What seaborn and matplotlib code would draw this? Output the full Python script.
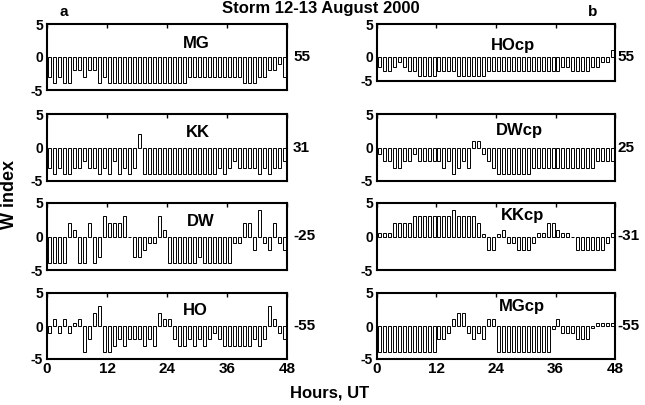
import numpy as np
import pandas as pd
import matplotlib
matplotlib.use('Agg')
import matplotlib.pyplot as plt
import seaborn as sns

sns.set_theme(style='white')
plt.rcParams['font.family'] = ['Liberation Sans', 'DejaVu Sans']
plt.rcParams['font.weight'] = 'bold'
plt.rcParams['text.color'] = 'black'
plt.rcParams['axes.labelcolor'] = 'black'
plt.rcParams['xtick.color'] = 'black'
plt.rcParams['ytick.color'] = 'black'

# hour bins (centre of each hour), 12-13 August 2000
hours = np.arange(48) + 0.5

# W index, left column (a)
mg = [-3, -4, -3, -4, -4, -2, -2, -3, -2, -2, -4, -3,
      -4, -4, -4, -4, -4, -4, -4, -4, -4, -4, -4, -4,
      -4, -4, -4, -4, -3, -3, -3, -3, -3, -3, -3, -3,
      -3, -3, -3, -4, -4, -4, -3, -3, -2, -2, -1, -3]
kk = [-3, -4, -3, -4, -4, -3, -3, -2, -3, -3, -4, -3,
      -4, -2, -4, -3, -4, -3, 2, -4, -4, -4, -4, -4,
      -4, -4, -4, -4, -4, -4, -4, -4, -4, -4, -3, -4,
      -3, -2, -3, -3, -3, -3, -4, -3, -4, -3, -3, -2]
dw = [-4, -4, -4, -4, 2, 1, -4, -4, 2, -4, -3, 3,
      2, 2, 2, 3, 0, -3, -3, -2, -1, -1, 3, 1,
      -4, -4, -4, -4, -4, -4, -3, -4, -4, -4, -4, -4,
      -4, -1, -1, 2, 2, -2, 4, -1, -2, 2, -1, -2]
ho = [-1, 1, -1, 1, -1, 0.5, 1, -4, -2, 2, 3, -4,
      -4, -3, -2, -3, -2, -2, -2, -3, -2, -3, 2, 1,
      1, -2, -3, -3, -2, -3, -2, -3, -2, -1, -2, -3,
      -3, -3, -3, -3, -3, -2, -3, -2, 3, 1, -1, -2]

# W index, right column (b), conjugate points
hocp = [-2, -3, -3, -2, -1, -2, -3, -3, -4, -4, -4, -4,
        -3, -3, -3, -3, -4, -4, -4, -4, -4, -4, -3, -3,
        -3, -3, -3, -3, -3, -3, -3, -3, -3, -3, -3, -3,
        -3, -2, -2, -3, -3, -3, -3, -2, -2, -1, -1, 1]
dwcp = [-1, -2, -2, -3, -3, -2, -2, -1, -2, -2, -2, -2,
        -2, -3, -2, -4, -3, -2, -3, 1, 1, -1, -2, -3,
        -4, -4, -4, -4, -4, -4, -4, -3, -3, -3, -3, -3,
        -3, -3, -3, -3, -3, -3, -3, -3, -2, -2, -2, -2]
kkcp = [0.5, 0.5, 0.5, 2, 2, 2, 2, 3, 3, 3, 3, 3,
        3, 3, 3, 4, 3, 3, 3, 3, 2, 0.3, -2, -2,
        0.3, 1, -1, -1, -2, -2, -2, -1, 0.5, 0.5, 2, 2,
        1, 0.5, 0.5, 0, -2, -2, -2, -2, -2, -2, -1, 0.5]
mgcp = [-4, -4, -4, -4, -4, -4, -4, -4, -4, -4, -4, -4,
        -2, -2, -1, 1, 2, 2, -1, -2, -1, -2, 1, 1,
        -4, -4, -4, -4, -4, -4, -4, -4, -4, -4, -4, -0.5,
        1, -1, -1, -1, -2, -2, -2, -0.3, 0.5, 0.5, 0.5, 0.5]

names_a = ['MG', 'KK', 'DW', 'HO']
names_b = ['HOcp', 'DWcp', 'KKcp', 'MGcp']
lon_a = ['55', '31', '-25', '-55']
lon_b = ['55', '25', '-31', '-55']

W, H = 645, 405
fig = plt.figure(figsize=(6.45, 4.05), dpi=100)


def rect(x0, x1, y0, y1):
    return [x0 / W, 1 - y1 / H, (x1 - x0) / W, (y1 - y0) / H]


rows = [(24, 90), (114, 181), (203, 270), (293, 359)]
lab_a = [(0.62, 0.71), (0.63, 0.73), (0.64, 0.72), (0.62, 0.73)]
lab_b = [(0.57, 0.63), (0.60, 0.75), (0.61, 0.82), (0.61, 0.80)]

panels = []
for i, (vals, name, lon) in enumerate(zip([mg, kk, dw, ho], names_a, lon_a)):
    panels.append((rect(47, 287, *rows[i]), vals, name, lon, lab_a[i], 0.025, i))
for i, (vals, name, lon) in enumerate(zip([hocp, dwcp, kkcp, mgcp], names_b, lon_b)):
    r = rows[i] if i > 0 else (24, 81)
    panels.append((rect(377, 615, *r), vals, name, lon, lab_b[i], 0.01, i))

for pos, vals, name, lon, lpos, dx, row in panels:
    ax = fig.add_axes(pos)
    df = pd.DataFrame({'hour': hours, 'w': vals})
    sns.barplot(data=df, x='hour', y='w', native_scale=True, width=0.6,
                color='white', saturation=1, edgecolor='black', linewidth=0.7,
                errorbar=None, ax=ax)
    if name == 'HOcp':
        # lower half of this panel is compressed in the original figure
        k = 24 / 33
        ax.set_yscale('function', functions=(lambda y: np.where(y < 0, y * k, y),
                                             lambda y: np.where(y < 0, y / k, y)))
    ax.set_xlim(0, 48)
    ax.set_ylim(-5, 5)
    ax.set_yticks([-5, 0, 5])
    ax.set_yticklabels(['-5', '0', '5'], fontsize=10, fontweight='bold')
    ax.set_xticks([0, 12, 24, 36, 48])
    if row == 3:
        ax.set_xticklabels(['0', '12', '24', '36', '48'], fontsize=11, fontweight='bold')
    else:
        ax.set_xticklabels([])
    ax.set_xlabel('')
    ax.set_ylabel('')
    ax.tick_params(direction='in', top=True, right=False, length=3, width=1,
                   pad=2, colors='black')
    ax.tick_params(axis='y', length=0, pad=3)
    for sp in ax.spines.values():
        sp.set_visible(True)
        sp.set_color('black')
        sp.set_linewidth(1.5)
    ax.text(lpos[0], lpos[1], name, transform=ax.transAxes, ha='center',
            va='center', fontsize=12, fontweight='bold', color='black')
    ax.text(1 + dx, 0, lon, transform=ax.get_yaxis_transform(), ha='left',
            va='center', fontsize=11, fontweight='bold', color='black')

fig.text(0.498, 0.978, 'Storm 12-13 August 2000', ha='center', va='center',
         fontsize=12, fontweight='bold', color='black')
fig.text(64 / W, 1 - 12 / H, 'a', ha='center', va='center', fontsize=11,
         fontweight='bold', color='black')
fig.text(593 / W, 1 - 12 / H, 'b', ha='center', va='center', fontsize=11,
         fontweight='bold', color='black')
fig.text(10 / W, 1 - 195 / H, 'W index', rotation=90, ha='center', va='center',
         fontsize=13, fontweight='bold', color='black')
fig.text(330 / W, 1 - 393 / H, 'Hours, UT', ha='center', va='center',
         fontsize=12, fontweight='bold', color='black')

fig.savefig('out.png', dpi=100, facecolor='white')
